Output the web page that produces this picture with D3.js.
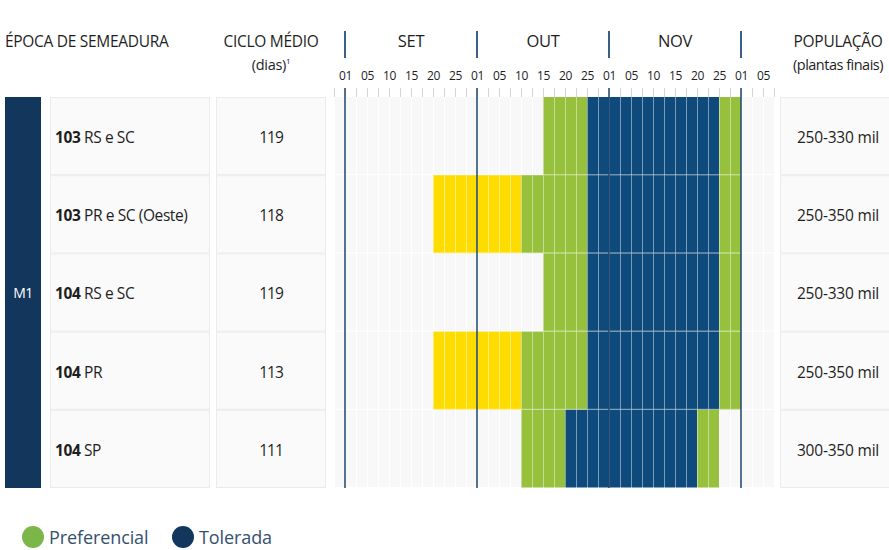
<!DOCTYPE html>
<html>
<head>
<meta charset="utf-8">
<script src="https://cdn.jsdelivr.net/npm/d3@7"></script>
<style>
  body { margin: 0; background: #fff; }
  svg { display: block; font-family: "Open Sans", sans-serif; }
</style>
</head>
<body>
<svg width="889" height="550"></svg>
<script>

// data
var months = ["SET", "OUT", "NOV", "DEZ"]
var dayTicks = ["01", "05", "10", "15", "20", "25"]
var varieties = ["103", "103", "104", "104", "104"]
var regions = ["RS e SC", "PR e SC (Oeste)", "RS e SC", "PR", "SP"]
var cycles = ["119", "118", "119", "113", "111"]
var populations = ["250-330 mil", "250-350 mil", "250-330 mil", "250-350 mil", "300-350 mil"]
var sowingGroup = "M1"

// periods per row: [start, end, type]
var periods = [
    [["OUT 15", "OUT 25", "pref"], ["OUT 25", "NOV 25", "tol"], ["NOV 25", "DEZ 01", "pref"]],
    [["SET 20", "OUT 10", "early"], ["OUT 10", "OUT 25", "pref"], ["OUT 25", "NOV 25", "tol"], ["NOV 25", "DEZ 01", "pref"]],
    [["OUT 15", "OUT 25", "pref"], ["OUT 25", "NOV 25", "tol"], ["NOV 25", "DEZ 01", "pref"]],
    [["SET 20", "OUT 10", "early"], ["OUT 10", "OUT 25", "pref"], ["OUT 25", "NOV 25", "tol"], ["NOV 25", "DEZ 01", "pref"]],
    [["OUT 10", "OUT 20", "pref"], ["OUT 20", "NOV 20", "tol"], ["NOV 20", "NOV 25", "pref"]]
]

var legendItems = [
    {label: "Preferencial", type: "pref"},
    {label: "Tolerada", type: "tol"}
]

var colors = {pref: "#97c03d", tol: "#0f4a7c", early: "#ffdc00"}
var legendColors = {pref: "#7ab648", tol: "#13365c"}

// each month = 12 columns, one tick label every 2 columns
function toCol(s) {
    var p = s.split(" ")
    return months.indexOf(p[0]) * 12 + dayTicks.indexOf(p[1]) * 2
}

var svg = d3.select("svg")

var yTop = 97, yBottom = 488

var x = d3.scaleLinear()
    .domain([-1, 39])
    .range([334, 774])

var y = d3.scaleBand()
    .domain(d3.range(regions.length))
    .range([yTop, yBottom])

var colW = x(1) - x(0)

// header
var header = svg.append("g")
    .attr("font-size", "15.5px")
    .attr("fill", "#1e1e1e")
    .style("letter-spacing", "-0.3px")

header.append("text").attr("x", 5).attr("y", 47).text("ÉPOCA DE SEMEADURA")
header.append("text").attr("x", 271).attr("y", 47).attr("text-anchor", "middle").text("CICLO MÉDIO")
var dias = header.append("text").attr("x", 271).attr("y", 70).attr("text-anchor", "middle").attr("font-size", "14.5px")
dias.append("tspan").text("(dias)")
dias.append("tspan").attr("font-size", "8px").attr("dy", "-6").text("1")
header.append("text").attr("x", 838).attr("y", 70).attr("text-anchor", "middle").attr("font-size", "14.5px").style("letter-spacing", "-0.5px").text("(plantas finais)")
header.append("text").attr("x", 838).attr("y", 47).attr("text-anchor", "middle").text("POPULAÇÃO")

// month names
header.selectAll(".month")
    .data(months.slice(0, 3))
    .enter()
    .append("text")
    .attr("class", "month")
    .attr("text-anchor", "middle")
    .attr("x", function(d, i) { return x(i * 12 + 6) })
    .attr("y", 47)
    .attr("font-size", "16.5px")
    .text(function(d) { return d })

// month separators in header
svg.selectAll(".msep")
    .data(d3.range(4))
    .enter()
    .append("line")
    .attr("x1", function(d) { return x(d * 12) })
    .attr("x2", function(d) { return x(d * 12) })
    .attr("y1", 31)
    .attr("y2", 58)
    .attr("stroke", "#3b5f84")
    .attr("stroke-width", 2)

// tick labels
var tickVals = d3.range(0, 39, 2)
var axis = d3.axisTop(x)
    .tickValues(tickVals)
    .tickSize(0)
    .tickFormat(function(d) { return dayTicks[(d / 2) % 6] })

svg.append("g")
    .attr("transform", "translate(0,83)")
    .call(axis)
    .call(function(g) { g.select(".domain").remove() })
    .selectAll("text")
    .attr("font-family", "Open Sans, sans-serif")
    .attr("font-size", "12px")
    .attr("fill", "#1e1e1e")
    .style("letter-spacing", "-0.3px")

// minor ticks
svg.append("g")
    .selectAll("line")
    .data(d3.range(-1, 40))
    .enter()
    .append("line")
    .attr("x1", function(d) { return x(d) + 0.5 })
    .attr("x2", function(d) { return x(d) + 0.5 })
    .attr("y1", 88)
    .attr("y2", yTop)
    .attr("stroke", "#d4d4d4")
    .attr("stroke-width", 1)

// M1 box
svg.append("rect")
    .attr("x", 5).attr("y", yTop)
    .attr("width", 36).attr("height", yBottom - yTop)
    .attr("fill", "#13365c")
svg.append("text")
    .attr("x", 23).attr("y", (yTop + yBottom) / 2 + 5)
    .attr("text-anchor", "middle")
    .attr("fill", "#fff")
    .attr("font-size", "14px")
    .style("letter-spacing", "-0.5px")
    .text(sowingGroup)

var rows = svg.selectAll(".row")
    .data(d3.range(regions.length))
    .enter()
    .append("g")
    .attr("class", "row")
    .attr("transform", function(d) { return "translate(0," + y(d) + ")" })

var h = y.bandwidth()

// table cells
var cells = [[50, 159], [216, 109], [780, 109]]
cells.forEach(function(c) {
    rows.append("rect")
        .attr("x", c[0] + 0.5).attr("y", 0.5)
        .attr("width", c[1]).attr("height", h - 1)
        .attr("fill", "#fafafa")
        .attr("stroke", "#ebebeb")
})

var label = rows.append("text")
    .attr("x", 55).attr("y", h / 2 + 7)
    .attr("font-size", "15.5px")
    .attr("fill", "#1e1e1e")
    .style("letter-spacing", "-0.4px")
label.append("tspan").attr("font-weight", "bold").text(function(d) { return varieties[d] })
label.append("tspan").text(function(d) { return " " + regions[d] })

rows.append("text")
    .attr("x", 271).attr("y", h / 2 + 7)
    .attr("text-anchor", "middle")
    .attr("font-size", "15.5px")
    .attr("fill", "#1e1e1e")
    .style("letter-spacing", "-1px")
    .text(function(d) { return cycles[d] })

rows.append("text")
    .attr("x", 838).attr("y", h / 2 + 7)
    .attr("text-anchor", "middle")
    .attr("font-size", "15.5px")
    .attr("fill", "#1e1e1e")
    .style("letter-spacing", "-0.2px")
    .text(function(d) { return populations[d] })

// background timeline cells
rows.selectAll(".bg")
    .data(d3.range(-1, 39))
    .enter()
    .append("rect")
    .attr("class", "bg")
    .attr("x", function(d) { return x(d) + 1 })
    .attr("y", 0)
    .attr("width", colW - 1)
    .attr("height", h - 1)
    .attr("fill", "#f8f8f8")

// colored cells
rows.each(function(r) {
    var cellsData = []
    periods[r].forEach(function(p) {
        d3.range(toCol(p[0]), toCol(p[1])).forEach(function(c) {
            cellsData.push({col: c, type: p[2]})
        })
    })
    d3.select(this).selectAll(".cell")
        .data(cellsData)
        .enter()
        .append("rect")
        .attr("class", "cell")
        .attr("x", function(d) { return x(d.col) })
        .attr("y", 0)
        .attr("width", colW)
        .attr("height", h)
        .attr("fill", function(d) { return colors[d.type] })
    d3.select(this).selectAll(".sep")
        .data(cellsData)
        .enter()
        .append("line")
        .attr("class", "sep")
        .attr("x1", function(d) { return x(d.col) + 0.5 })
        .attr("x2", function(d) { return x(d.col) + 0.5 })
        .attr("y1", 0)
        .attr("y2", h)
        .attr("stroke", "rgba(255,255,255,0.45)")
    d3.select(this).append("line")
        .attr("x1", x(-1)).attr("x2", x(39))
        .attr("y1", h - 0.5).attr("y2", h - 0.5)
        .attr("stroke", "rgba(255,255,255,0.5)")
})

// month lines over timeline
svg.selectAll(".mline")
    .data(d3.range(4))
    .enter()
    .append("line")
    .attr("x1", function(d) { return x(d * 12) })
    .attr("x2", function(d) { return x(d * 12) })
    .attr("y1", 88)
    .attr("y2", yBottom)
    .attr("stroke", "#1b4670")
    .attr("stroke-opacity", 0.75)
    .attr("stroke-width", 2)

// legend
var legend = svg.selectAll(".legend")
    .data(legendItems)
    .enter()
    .append("g")
    .attr("class", "legend")
    .attr("transform", function(d, i) { return "translate(" + (i === 0 ? 33 : 183) + ",537)" })

legend.append("circle")
    .attr("r", 11)
    .attr("fill", function(d) { return legendColors[d.type] })

legend.append("text")
    .attr("x", 16)
    .attr("y", 7)
    .attr("font-size", "18px")
    .attr("fill", "#34506f")
    .style("letter-spacing", "-0.1px")
    .text(function(d) { return d.label })

</script>
</body>
</html>
